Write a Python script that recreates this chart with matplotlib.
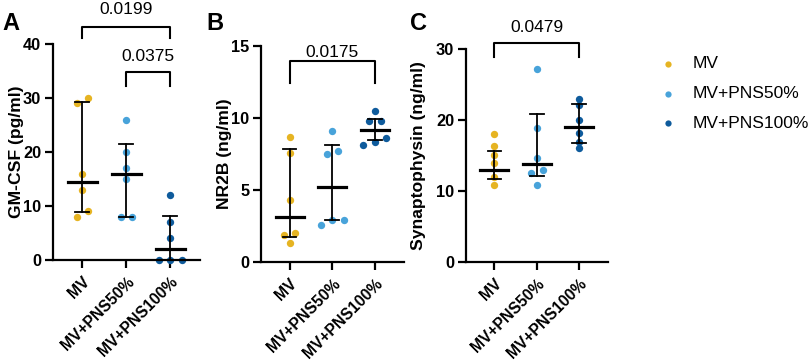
import numpy as np
import matplotlib
matplotlib.use("Agg")
import matplotlib.pyplot as plt
from matplotlib.lines import Line2D

plt.rcParams['font.family'] = ['Liberation Sans', 'DejaVu Sans']

groups = ['MV', 'MV+PNS50%', 'MV+PNS100%']
colors = ['#E6B422', '#48A3DA', '#0E5B9C']

# panel A: GM-CSF
gm_mv = [29, 30, 16, 13, 9, 8]
gm_p50 = [26, 20, 17, 15, 8, 8]
gm_p100 = [12, 7, 4, 0, 0, 0]
gm_med = [14.5, 16, 2]
gm_lo = [8.8, 8, 0]
gm_hi = [29.2, 21.5, 8.2]

# panel B: NR2B
nr_mv = [8.7, 7.6, 4.3, 2.0, 1.9, 1.3]
nr_p50 = [9.1, 7.7, 7.5, 2.9, 2.9, 2.6]
nr_p100 = [10.5, 9.8, 9.8, 8.6, 8.3, 8.1]
nr_med = [3.15, 5.2, 9.15]
nr_lo = [1.75, 2.9, 8.45]
nr_hi = [7.85, 8.1, 9.95]

# panel C: Synaptophysin
sy_mv = [18.0, 16.3, 15.1, 14.0, 12.0, 10.9]
sy_p50 = [27.2, 18.9, 14.6, 12.9, 12.6, 10.9]
sy_p100 = [23.0, 22.1, 20.0, 18.1, 16.9, 16.0]
sy_med = [13.0, 13.8, 19.0]
sy_lo = [11.7, 12.1, 16.8]
sy_hi = [15.7, 20.9, 22.2]

W, H = 809, 364
fig = plt.figure(figsize=(W / 100, H / 100), dpi=100)


def swarm(vals, py, px, diam=6.0, step=11.5):
    """Spread points that would overlap into a centred row."""
    vals = np.asarray(vals, dtype=float)
    order = np.argsort(vals)
    offs = np.zeros(len(vals))
    clusters = [[order[0]]]
    for i in order[1:]:
        if (vals[i] - vals[clusters[-1][-1]]) * py < diam:
            clusters[-1].append(i)
        else:
            clusters.append([i])
    for c in clusters:
        n = len(c)
        for k, idx in enumerate(c):
            offs[idx] = (k - (n - 1) / 2) * step / px
    return offs


def panel(rect, series, med, lo, hi, ymax, ystep, ylabel, ylab_x, letter, letter_x):
    left, top, right, bottom = rect
    ax = fig.add_axes([left / W, 1 - bottom / H, (right - left) / W, (bottom - top) / H])
    ax.set_xlim(-0.67, 2.68)
    ax.set_ylim(0, ymax)
    py = (bottom - top) / ymax
    px = (right - left) / 3.35

    for i, vals in enumerate(series):
        offs = swarm(vals, py, px)
        ax.scatter(i + offs, vals, s=28, color=colors[i], zorder=2, clip_on=False,
                   linewidths=0)
        ax.plot([i, i], [lo[i], hi[i]], color='black', lw=1.3, zorder=3)
        for y in (lo[i], hi[i]):
            ax.plot([i - 0.16, i + 0.16], [y, y], color='black', lw=1.3, zorder=3)
        ax.plot([i - 0.33, i + 0.33], [med[i], med[i]], color='black', lw=2.3, zorder=3)

    for s in ('top', 'right'):
        ax.spines[s].set_visible(False)
    for s in ('left', 'bottom'):
        ax.spines[s].set_linewidth(1.6)
    ax.set_yticks(np.arange(0, ymax + 0.1, ystep))
    ax.set_xticks(range(3))
    ax.set_xticklabels(groups, rotation=45, ha='right', rotation_mode='anchor',
                       fontsize=11.3, fontweight='bold')
    ax.tick_params(axis='both', width=1.6, length=6)
    ax.tick_params(axis='x', pad=4)
    ax.tick_params(axis='y', pad=2.5, labelsize=11.8)
    for t in ax.get_yticklabels():
        t.set_fontweight('bold')
    ax.set_ylabel(ylabel, fontsize=12.6, fontweight='bold')
    ax.yaxis.set_label_coords((ylab_x - left) / (right - left), 0.5)
    fig.text(letter_x / W, 1 - 23 / H, letter, fontsize=17, fontweight='bold',
             va='center', ha='left')
    return ax


def bracket(ax, x0, x1, y, leg, text, ty):
    ax.plot([x0, x0, x1, x1], [leg, y, y, leg], color='black', lw=1.5, clip_on=False)
    ax.text((x0 + x1) / 2, ty, text, ha='center', va='center', fontsize=12.5)


axA = panel((53, 44, 200, 260), [gm_mv, gm_p50, gm_p100], gm_med, gm_lo, gm_hi,
            40, 10, 'GM-CSF (pg/ml)', 24, 'A', 2)
bracket(axA, 0, 2, 43.1, 41.1, '0.0199', 46.3)
bracket(axA, 1, 2, 34.8, 32.2, '0.0375', 37.6)

axB = panel((261, 46, 404, 262), [nr_mv, nr_p50, nr_p100], nr_med, nr_lo, nr_hi,
            15, 5, 'NR2B (ng/ml)', 232, 'B', 206)
bracket(axB, 0, 2, 13.96, 12.4, '0.0175', 14.55)

axC = panel((466, 49, 608, 262), [sy_mv, sy_p50, sy_p100], sy_med, sy_lo, sy_hi,
            30, 10, 'Synaptophysin (ng/ml)', 426, 'C', 410)
bracket(axC, 0, 2, 30.9, 28.9, '0.0479', 33.0)

# legend
for i, (g, c) in enumerate(zip(groups, colors)):
    yy = 1 - (64 + 29.5 * i) / H
    fig.add_artist(Line2D([668 / W], [yy], marker='o', markersize=4.5, color=c,
                          linestyle='none', markeredgewidth=0, transform=fig.transFigure))
    fig.text(693 / W, yy, g, fontsize=12.5, va='center', ha='left')

fig.savefig('out.png', dpi=100)
